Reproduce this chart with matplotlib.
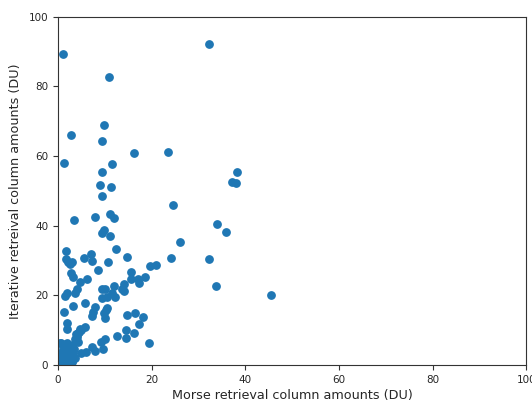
import matplotlib
matplotlib.use("Agg")
import matplotlib.pyplot as plt
import numpy as np

# Morse vs iterative retrieval column amounts (DU)
morse = [1.1, 32.3, 11.0, 9.8, 2.7, 9.4, 16.2, 23.5, 1.3, 11.6, 9.3,
         9.0, 11.3, 9.4, 37.1, 38.3, 38.0, 24.6, 3.35, 7.8, 11.1, 12.0,
         34.0, 35.9, 9.8, 9.3, 11.2, 26.1, 12.4, 1.7, 14.8, 7.0, 5.6,
         7.2, 1.7, 2.2, 2.9, 2.6, 10.6, 24.1, 32.3, 33.8, 45.6, 8.5,
         19.7, 20.9, 15.6, 2.7, 3.3, 6.2, 4.8, 15.6, 17.0, 18.6, 17.2,
         14.2, 12.0, 9.3, 10.0, 13.6, 4.0, 3.6, 1.9, 1.6, 11.5, 12.2,
         14.0, 9.3, 10.4, 5.8, 3.1, 1.3, 7.9, 7.5, 7.2, 10.4, 9.9, 10.0,
         10.3, 14.8, 16.5, 18.1, 17.3, 16.2, 14.5, 14.5, 12.7, 19.4,
         1.9, 1.9, 4.7, 5.8, 4.3, 4.0, 3.6, 10.0, 9.2, 7.2, 7.9, 9.7,
         6.0, 4.9, 0.4, 1.9, 2.9, 2.6, 0.8, 1.5, 2.2, 0.4, 0.8, 2.9,
         3.6, 3.3, 0.3, 0.8, 1.5, 2.0, 0.5, 1.0, 2.5, 3.0, 1.2, 0.2,
         2.8, 1.8, 0.6, 3.5, 4.2, 3.8, 4.5, 5.0, 2.2, 0.0]
iterative = [89.4, 92.3, 82.6, 68.8, 66.1, 64.2, 60.9, 61.2, 58.1, 57.7,
             55.5, 51.7, 51.0, 48.6, 52.5, 55.5, 52.2, 45.8, 41.5, 42.5,
             43.3, 42.1, 40.4, 38.2, 38.8, 38.0, 37.1, 35.4, 33.3, 32.6,
             31.1, 31.8, 30.7, 29.9, 30.5, 29.7, 29.7, 29.0, 29.7, 30.6,
             30.4, 22.7, 20.0, 27.3, 28.4, 28.7, 26.8, 26.3, 25.2, 24.6,
             23.9, 24.6, 24.6, 25.4, 23.5, 23.3, 22.7, 21.7, 21.9, 21.7,
             21.7, 20.6, 20.6, 19.8, 20.6, 19.6, 21.1, 19.2, 19.4, 17.9,
             17.0, 15.3, 16.5, 15.3, 14.1, 16.3, 14.9, 13.6, 15.8, 14.4,
             14.9, 13.9, 11.7, 9.1, 10.1, 7.6, 8.4, 6.2, 12.0, 10.3, 10.3,
             11.0, 9.1, 8.1, 7.4, 7.4, 6.7, 5.1, 4.0, 4.6, 3.6, 3.5, 6.4,
             6.2, 5.7, 4.8, 3.4, 2.4, 1.4, 1.4, 0.5, 0.7, 1.9, 3.4, 0.5,
             1.2, 0.3, 2.5, 3.0, 4.5, 3.8, 1.0, 2.0, 1.8, 5.5, 6.0, 6.2,
             4.5, 6.5, 8.8, 9.5, 10.0, 0.2, 0.0]

fig = plt.figure(figsize=(5.32, 4.01), dpi=100)
ax = fig.add_axes([0.109, 0.09, 0.880, 0.868])
ax.scatter(morse, iterative, color="#1f77b4", s=28)
ax.set_xlim(0, 100)
ax.set_ylim(0, 100)
ax.tick_params(labelsize=7.5, colors="#333333", labelcolor="#262626")
for sp in ax.spines.values():
    sp.set_color("#333333")
ax.set_xlabel("Morse retrieval column amounts (DU)", fontsize=9.2,
              color="#262626", labelpad=3)
ax.set_ylabel("Iterative retreival column amounts (DU)", fontsize=9.2,
              color="#262626", labelpad=5)

fig.savefig("out.png", dpi=100)
